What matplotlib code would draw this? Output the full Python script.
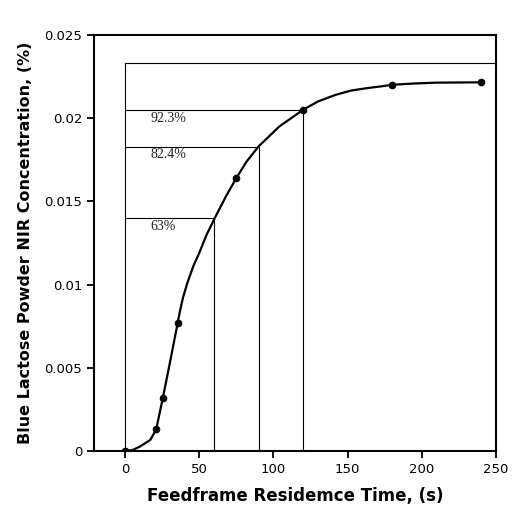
import matplotlib.pyplot as plt

# fitted curve
t_curve = [0, 5, 10, 17, 21, 25.5, 30, 35.5, 37, 39, 42, 46, 50, 55, 60.5, 68,
           75, 82, 90, 97, 104, 112, 120, 130, 142, 152, 163, 172, 180, 195,
           210, 225, 240]
c_curve = [0, 0.00005, 0.00026, 0.00066, 0.0013, 0.0032, 0.0052, 0.0077, 0.0084,
           0.0092, 0.0101, 0.0111, 0.0119, 0.0130, 0.0140, 0.0153, 0.0164,
           0.0174, 0.0183, 0.0189, 0.0195, 0.0200, 0.0205, 0.0210, 0.0214,
           0.02165, 0.0218, 0.0219, 0.0220, 0.02208, 0.02213, 0.02214, 0.02215]

# measured points
t_pts = [0, 21, 25.5, 35.5, 75, 120, 180, 240]
c_pts = [0, 0.0013, 0.0032, 0.0077, 0.0164, 0.0205, 0.0220, 0.02215]

# reference levels
c_top = 0.02332
c_max = 0.0222
pct = [63, 82.4, 92.3]
pct_labels = ['63%', '82.4%', '92.3%']
pct_times = [60, 90, 120]

fig = plt.figure(figsize=(5.13, 5.13), dpi=100)
ax = fig.add_axes([0.183, 0.121, 0.784, 0.811])

ax.plot(t_curve, c_curve, color='black', lw=1.6, zorder=3)
ax.plot(t_pts, c_pts, 'o', color='black', ms=4.5, zorder=4)

# outer reference box
ax.plot([0, 0], [0, c_top], color='black', lw=0.8)
ax.plot([0, 250], [c_top, c_top], color='black', lw=0.8)

for p, lab, t in zip(pct, pct_labels, pct_times):
    lvl = c_max * p / 100
    ax.plot([0, t], [lvl, lvl], color='black', lw=0.8)
    ax.plot([t, t], [0, lvl], color='black', lw=0.8)
    ax.text(17, lvl - 0.0001, lab, family='Liberation Serif', fontsize=10,
            color='#222222', ha='left', va='top')

ax.set_xlim(-21, 250)
ax.set_ylim(0, 0.025)
ax.set_xticks([0, 50, 100, 150, 200, 250])
ax.set_yticks([0, 0.005, 0.01, 0.015, 0.02, 0.025])
ax.set_yticklabels(['0', '0.005', '0.01', '0.015', '0.02', '0.025'])
ax.tick_params(direction='out', length=5, width=1.3, labelsize=9.5)
for s in ax.spines.values():
    s.set_linewidth(1.5)

ax.set_xlabel('Feedframe Residemce Time, (s)', fontsize=12, fontweight='bold', labelpad=8)
ax.set_ylabel('Blue Lactose Powder NIR Concentration, (%)', fontsize=11.5,
              fontweight='bold', labelpad=8)

plt.savefig('out.png', dpi=100)
